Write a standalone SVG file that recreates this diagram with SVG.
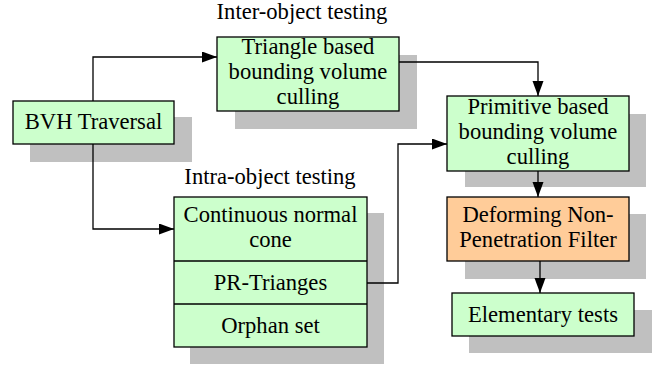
<svg xmlns="http://www.w3.org/2000/svg" width="654" height="366" viewBox="0 0 654 366">
<defs>
<marker id="ah" markerWidth="16" markerHeight="12" refX="15" refY="5.5" orient="auto" markerUnits="userSpaceOnUse">
<path d="M0,0 L15,5.5 L0,11 Z" fill="#000"/>
</marker>
</defs>
<rect width="654" height="366" fill="#fff"/>
<g font-family="Liberation Serif, serif" font-size="22.6" text-anchor="middle" fill="#000">
<text x="302" y="19">Inter-object testing</text>
<text x="270" y="184">Intra-object testing</text>
</g>
<g id="shadows" fill="#C0C0C0">
<rect x="30" y="117" width="162" height="45"/>
<rect x="235" y="55" width="182" height="74"/>
<rect x="465" y="114" width="181" height="73"/>
<rect x="190" y="213" width="194" height="151"/>
<rect x="465" y="214" width="181" height="65"/>
<rect x="469" y="310" width="183" height="43"/>
</g>
<g id="connectors" fill="none" stroke="#000" stroke-width="1.3">
<polyline points="93,101 93,57 217,57" marker-end="url(#ah)"/>
<polyline points="93,144 93,229 174,229" marker-end="url(#ah)"/>
<polyline points="399,62 538,62 538,96" marker-end="url(#ah)"/>
<polyline points="367,283 398,283 398,144 447,144" marker-end="url(#ah)"/>
<polyline points="538,171 538,197" marker-end="url(#ah)"/>
<polyline points="540,261 540,293" marker-end="url(#ah)"/>
</g>
<g font-family="Liberation Serif, serif" font-size="22.6" text-anchor="middle">
<g id="bvh">
<rect x="13" y="101" width="161" height="43" fill="#CCFFCC" stroke="#000" stroke-width="1.3"/>
<text x="93.5" y="129">BVH Traversal</text>
</g>
<g id="triangle">
<rect x="217" y="37" width="182" height="74" fill="#CCFFCC" stroke="#000" stroke-width="1.3"/>
<text x="308" y="54">Triangle based</text>
<text x="308" y="79">bounding volume</text>
<text x="308" y="104">culling</text>
</g>
<g id="primitive">
<rect x="447" y="96" width="182" height="75" fill="#CCFFCC" stroke="#000" stroke-width="1.3"/>
<text x="538" y="114">Primitive based</text>
<text x="538" y="139">bounding volume</text>
<text x="538" y="164">culling</text>
</g>
<g id="intra">
<rect x="174" y="197" width="193" height="150" fill="#CCFFCC" stroke="#000" stroke-width="1.3"/>
<line x1="174" y1="261" x2="367" y2="261" stroke="#000" stroke-width="1.3"/>
<line x1="174" y1="304" x2="367" y2="304" stroke="#000" stroke-width="1.3"/>
<text x="270.5" y="222">Continuous normal</text>
<text x="270.5" y="247">cone</text>
<text x="270.5" y="290">PR-Trianges</text>
<text x="270.5" y="333">Orphan set</text>
</g>
<g id="deforming">
<rect x="447" y="197" width="182" height="64" fill="#FFCC99" stroke="#000" stroke-width="1.3"/>
<text x="538" y="222">Deforming Non-</text>
<text x="538" y="247">Penetration Filter</text>
</g>
<g id="elementary">
<rect x="452" y="293" width="182" height="43" fill="#CCFFCC" stroke="#000" stroke-width="1.3"/>
<text x="543" y="322">Elementary tests</text>
</g>
</g>
</svg>
